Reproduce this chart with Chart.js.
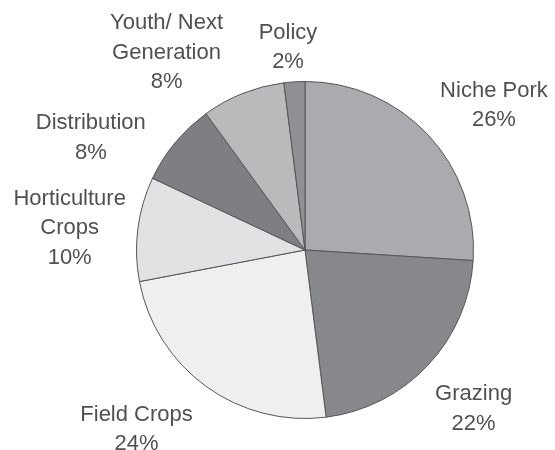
<!DOCTYPE html>
<html>
<head>
<meta charset="utf-8">
<script src="https://cdn.jsdelivr.net/npm/chart.js@4.4.1/dist/chart.umd.min.js"></script>
<style>
  html, body { margin: 0; padding: 0; background: #ffffff; }
  canvas { display: block; }
</style>
</head>
<body>
<canvas id="pieChart" width="555" height="450"></canvas>
<script>
// slice names (\n = line break in the label) and their shares in percent
var categories = ['Niche Pork', 'Grazing', 'Field Crops', 'Horticulture\nCrops', 'Distribution', 'Youth/ Next\nGeneration', 'Policy'];
var shares = [26, 22, 24, 10, 8, 8, 2];
var sliceColors = ['#a9abae', '#86888b', '#efefef', '#e2e2e4', '#7d7f82', '#b8babc', '#8e9093'];

// small angle tweaks (degrees) and pixel shifts so crowded labels sit like the original
var labelNudge = [0, 0, 5, 0, -12, -13, 0];
var labelShift = [[5, 7], [0, 7], [4, 15], [-2, 9], [-1, -9], [11, -6], [-3, 5]];

var outsideLabels = {
    id: 'outsideLabels',
    afterDatasetsDraw: function (chart) {
        var ctx = chart.ctx;
        var meta = chart.getDatasetMeta(0);
        var total = shares.reduce(function (a, b) { return a + b; }, 0);
        var fontSize = 22;
        var lineHeight = 29.5;

        ctx.save();
        ctx.font = fontSize + 'px "Liberation Sans", Arial, sans-serif';
        ctx.fillStyle = '#505050';
        ctx.textAlign = 'center';
        ctx.textBaseline = 'middle';

        meta.data.forEach(function (arc, i) {
            var lines = categories[i].split('\n');
            lines.push(Math.round(shares[i] / total * 100) + '%');

            var w = 0;
            lines.forEach(function (t) { w = Math.max(w, ctx.measureText(t).width); });
            var h = lines.length * lineHeight;

            var mid = (arc.startAngle + arc.endAngle) / 2 + labelNudge[i] * Math.PI / 180;
            var dx = Math.cos(mid), dy = Math.sin(mid);
            var r = arc.outerRadius + 10;
            var k = function (v) { return Math.max(-1, Math.min(1, v * 1.5)); };
            var cx = arc.x + dx * r + k(dx) * w / 2 + labelShift[i][0];
            var cy = arc.y + dy * r + k(dy) * h / 2 + labelShift[i][1];

            lines.forEach(function (t, j) {
                ctx.fillText(t, cx, cy - h / 2 + lineHeight * (j + 0.5));
            });
        });
        ctx.restore();
    }
};

var ctxPie = document.getElementById('pieChart').getContext('2d');

var pieChart = new Chart(ctxPie, {
    type: 'pie',
    data: {
        labels: categories,
        datasets: [{
            data: shares,
            backgroundColor: sliceColors,
            borderColor: '#555555',
            borderWidth: 1
        }]
    },
    options: {
        responsive: false,
        animation: false,
        layout: {
            padding: { left: 136, right: 81, top: 81, bottom: 31 }
        },
        plugins: {
            legend: { display: false },
            tooltip: { enabled: false }
        }
    },
    plugins: [outsideLabels]
});
</script>
</body>
</html>
